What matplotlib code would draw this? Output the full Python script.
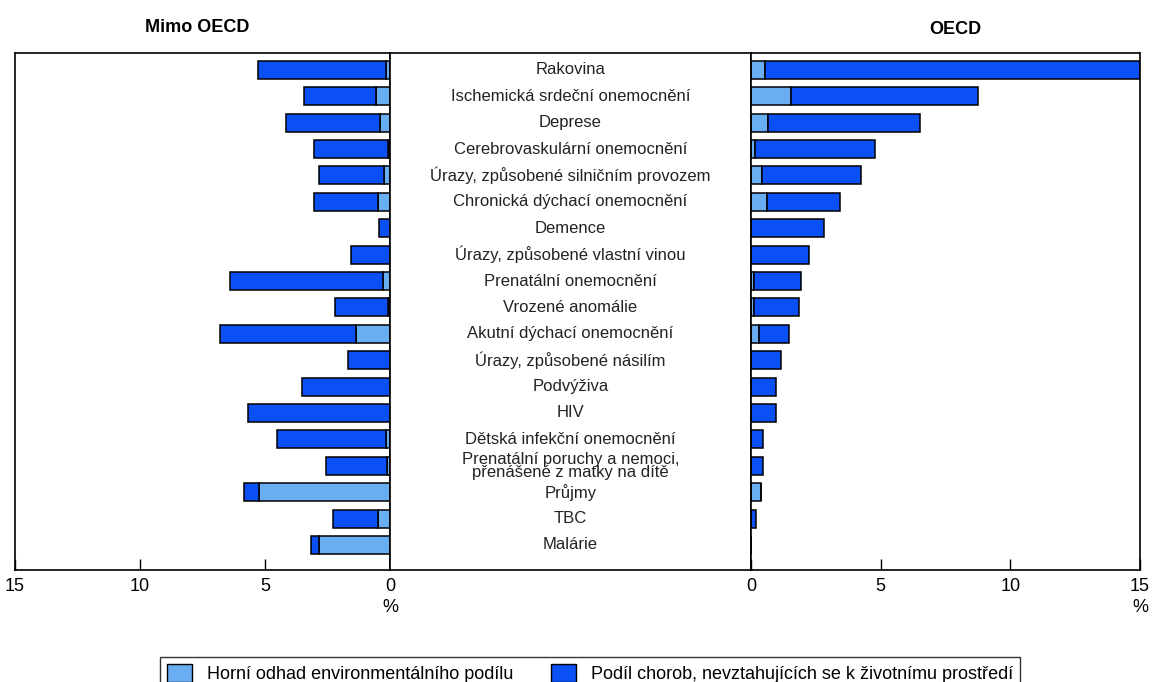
import numpy as np
import matplotlib
matplotlib.use("Agg")
import matplotlib.pyplot as plt
from matplotlib.patches import Patch

plt.rcParams['font.family'] = ['Liberation Sans', 'DejaVu Sans']

# kategorie (shora dolů)
nemoci = [
    'Rakovina',
    'Ischemická srdeční onemocnění',
    'Deprese',
    'Cerebrovaskulární onemocnění',
    'Úrazy, způsobené silničním provozem',
    'Chronická dýchací onemocnění',
    'Demence',
    'Úrazy, způsobené vlastní vinou',
    'Prenatální onemocnění',
    'Vrozené anomálie',
    'Akutní dýchací onemocnění',
    'Úrazy, způsobené násilím',
    'Podvýživa',
    'HIV',
    'Dětská infekční onemocnění',
    'Prenatální poruchy a nemoci,\npřenášené z matky na dítě',
    'Průjmy',
    'TBC',
    'Malárie',
]

# Mimo OECD: celkem a environmentální podíl (%)
mimo_celkem = [5.28, 3.44, 4.16, 3.04, 2.84, 3.04, 0.44, 1.56, 6.4, 2.2,
               6.8, 1.68, 3.52, 5.68, 4.52, 2.56, 5.84, 2.28, 3.16]
mimo_env = [0.15, 0.56, 0.4, 0.1, 0.24, 0.48, 0.0, 0.0, 0.28, 0.1,
            1.36, 0.0, 0.0, 0.0, 0.16, 0.12, 5.24, 0.48, 2.84]

# OECD
oecd_celkem = [15.0, 8.77, 6.5, 4.8, 4.23, 3.42, 2.8, 2.23, 1.92, 1.85,
               1.46, 1.15, 0.96, 0.96, 0.45, 0.47, 0.4, 0.18, 0.0]
oecd_env = [0.54, 1.54, 0.65, 0.15, 0.42, 0.63, 0.0, 0.0, 0.1, 0.1,
            0.3, 0.0, 0.0, 0.0, 0.0, 0.0, 0.4, 0.0, 0.0]

svetla = '#6aaef2'
tmava = '#0a50f5'

y = np.arange(len(nemoci))
fig = plt.figure(figsize=(11.52, 6.82), dpi=100)

top = 1 - 53 / 682
bot = 1 - 570 / 682
h = top - bot
x0, x1, x2, x3 = 15 / 1152, 390 / 1152, 751 / 1152, 1140 / 1152

ax_l = fig.add_axes([x0, bot, x1 - x0, h])
ax_m = fig.add_axes([x1, bot, x2 - x1, h])
ax_r = fig.add_axes([x2, bot, x3 - x2, h])

vyska = 0.68
for ax, celkem, env in [(ax_l, mimo_celkem, mimo_env), (ax_r, oecd_celkem, oecd_env)]:
    celkem = np.array(celkem)
    env = np.array(env)
    ax.barh(y, env, height=vyska, color=svetla, edgecolor='black', linewidth=1.1)
    ax.barh(y, celkem - env, left=env, height=vyska, color=tmava,
            edgecolor='black', linewidth=1.1)
    ax.set_xlim(0, 15)
    ax.set_xticks([0, 5, 10, 15])
    ax.tick_params(axis='x', direction='in', length=8, width=1, labelsize=13, pad=6)
    ax.set_yticks([])

ax_l.invert_xaxis()

for ax in (ax_l, ax_m, ax_r):
    ax.set_ylim(len(nemoci) - 1 + 0.95, -0.64)
    for s in ax.spines.values():
        s.set_linewidth(1.2)

ax_m.set_xlim(0, 1)
ax_m.set_xticks([])
ax_m.set_yticks([])
for i, n in enumerate(nemoci):
    ax_m.text(0.5, i, n, ha='center', va='center', fontsize=12,
              linespacing=0.8, color='#222222')

fig.text(390 / 1152, 1 - 608 / 682, '%', ha='center', va='center', fontsize=13)
fig.text(1140 / 1152, 1 - 608 / 682, '%', ha='center', va='center', fontsize=13)

fig.text(197 / 1152, 1 - 28 / 682, 'Mimo OECD', ha='center', va='center',
         fontsize=13, fontweight='bold')
fig.text(955 / 1152, 1 - 30 / 682, 'OECD', ha='center', va='center',
         fontsize=13, fontweight='bold')

handles = [Patch(facecolor=svetla, edgecolor='black', label='Horní odhad environmentálního podílu'),
           Patch(facecolor=tmava, edgecolor='black', label='Podíl chorob, nevztahujících se k životnímu prostředí')]
fig.legend(handles=handles, loc='upper center', bbox_to_anchor=(590 / 1152, 1 - 648 / 682),
           ncol=2, fontsize=13, frameon=True, fancybox=False, edgecolor='black',
           columnspacing=2.1, handlelength=1.4, handleheight=1.1, borderpad=0.4)

fig.savefig('out.png', dpi=100)
